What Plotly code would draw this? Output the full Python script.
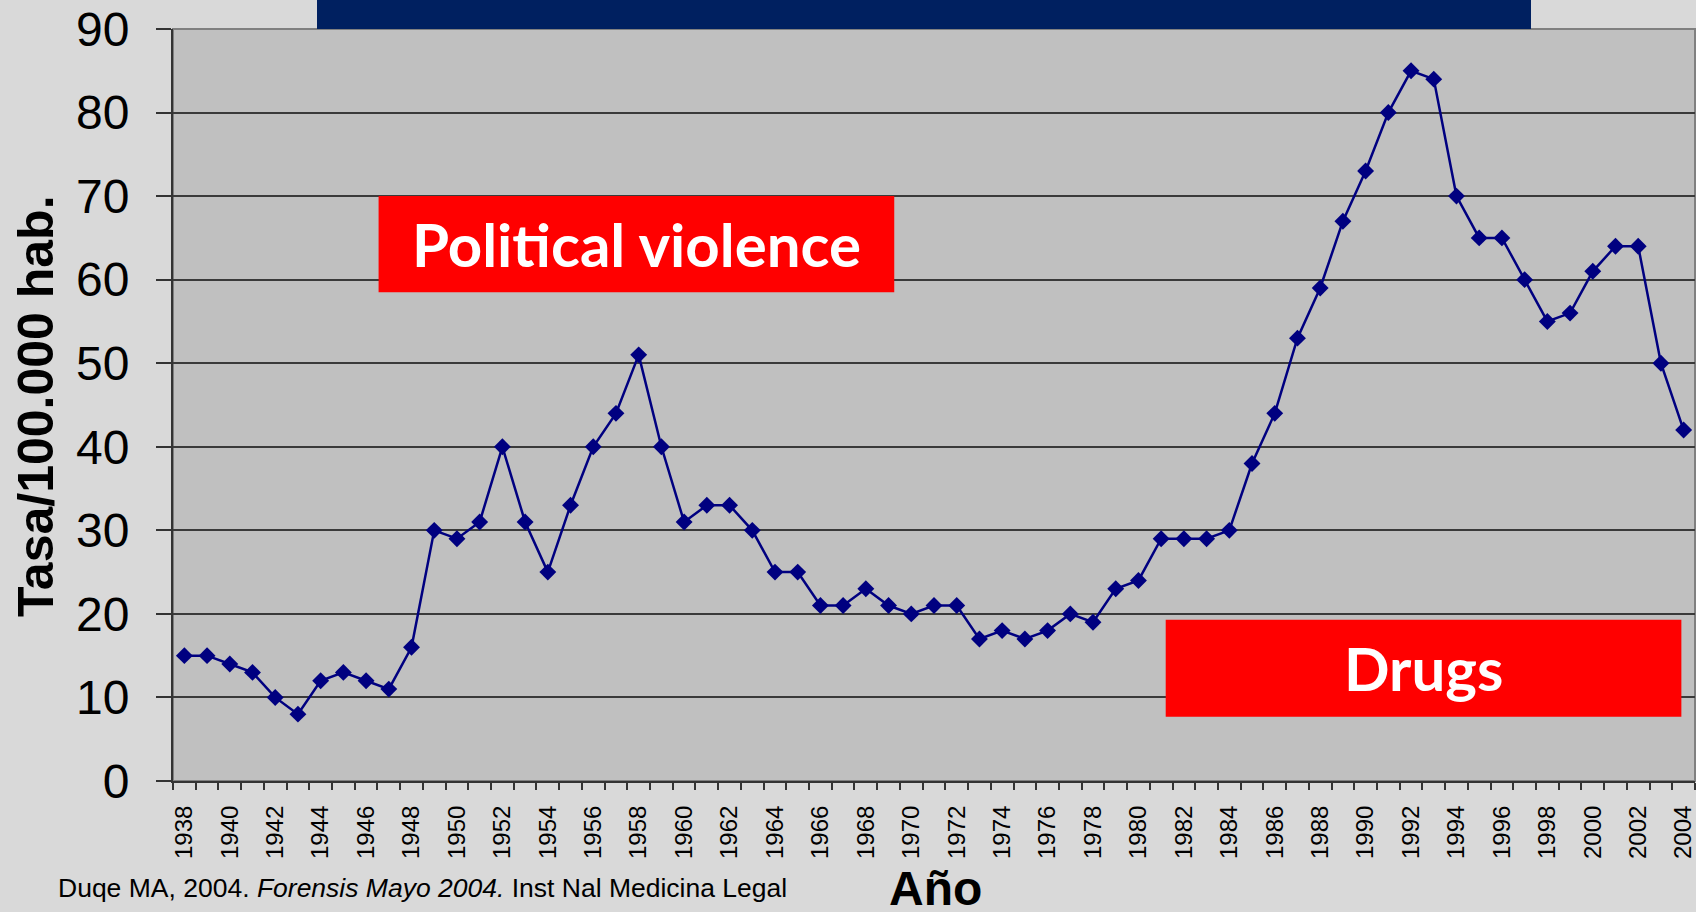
import plotly.graph_objects as go

# Homicide rate per 100,000 inhabitants, Colombia 1938-2004
years = list(range(1938, 2005))
rates = [15, 15, 14, 13, 10, 8, 12, 13, 12, 11,
         16, 30, 29, 31, 40, 31, 25, 33, 40, 44,
         51, 40, 31, 33, 33, 30, 25, 25, 21, 21,
         23, 21, 20, 21, 21, 17, 18, 17, 18, 20,
         19, 23, 24, 29, 29, 29, 30, 38, 44, 53,
         59, 67, 73, 80, 85, 84, 70, 65, 65, 60,
         55, 56, 61, 64, 64, 50, 42]

label_years = years[::2]
y_ticks = list(range(0, 100, 10))

# Period labels: (text, x0, x1, y0, y1) in data units
periods = [
    ("Political violence", 1946.55, 1969.25, 58.5, 70.0),
    ("Drugs", 1981.2, 2003.9, 7.7, 19.3),
]

source_text = "Duqe MA, 2004. <i>Forensis Mayo 2004.</i> Inst Nal Medicina Legal"

W, H = 1696, 912
L, R, T, B = 173, 1, 29, 131
PW, PH = W - L - R, H - T - B


def px_x(px):
    return (px - L) / PW


def px_y(py):
    return (H - B - py) / PH


FONT = "Liberation Sans, Arial, sans-serif"

fig = go.Figure()
fig.add_trace(go.Scatter(
    x=years, y=rates, mode="lines+markers",
    line=dict(color="#000080", width=2.5),
    marker=dict(symbol="diamond", size=13, color="#000080"),
    hoverinfo="x+y", showlegend=False,
))

shapes = [
    # plot-area frame
    dict(type="rect", xref="paper", yref="paper", x0=0, x1=1, y0=0, y1=1,
         line=dict(color="#808080", width=2), fillcolor="rgba(0,0,0,0)", layer="below"),
    # navy banner above the plot
    dict(type="rect", xref="paper", yref="paper",
         x0=px_x(317), x1=px_x(1531), y0=1, y1=px_y(-2),
         line=dict(width=0), fillcolor="#002060", layer="above"),
]
annotations = []
for text, x0, x1, y0, y1 in periods:
    shapes.append(dict(type="rect", xref="x", yref="y", x0=x0, x1=x1, y0=y0, y1=y1,
                       line=dict(width=0), fillcolor="#FF0000", layer="above"))
    annotations.append(dict(
        x=(x0 + x1) / 2, y=(y0 + y1) / 2, xref="x", yref="y",
        text=f"<b>{text}</b>", showarrow=False,
        font=dict(family="Lato, Open Sans, sans-serif", size=60, color="white"),
        xanchor="center", yanchor="middle",
    ))

annotations += [
    dict(x=px_x(36), y=px_y(406), xref="paper", yref="paper",
         text="<b>Tasa/100.000 hab.</b>", textangle=-90, showarrow=False,
         font=dict(family=FONT, size=50, color="black"),
         xanchor="center", yanchor="middle"),
    dict(x=px_x(936), y=px_y(888), xref="paper", yref="paper",
         text="<b>Año</b>", showarrow=False,
         font=dict(family=FONT, size=48, color="black"),
         xanchor="center", yanchor="middle"),
    dict(x=px_x(56), y=px_y(888), xref="paper", yref="paper",
         text=source_text, showarrow=False,
         font=dict(family=FONT, size=26.5, color="black"),
         xanchor="left", yanchor="middle"),
]

fig.update_layout(
    width=W, height=H,
    margin=dict(l=L, r=R, t=T, b=B, pad=0),
    paper_bgcolor="#D9D9D9",
    plot_bgcolor="#C0C0C0",
    shapes=shapes,
    annotations=annotations,
    font=dict(family=FONT, color="black"),
    xaxis=dict(
        range=[years[0] - 0.5, years[-1] + 0.5],
        tickmode="array", tickvals=label_years, ticktext=[str(v) for v in label_years],
        tickangle=-90, tickfont=dict(family=FONT, size=24, color="black"),
        ticks="", ticklabelstandoff=13, ticklabeloverflow="allow",
        minor=dict(tickmode="array", tickvals=[y - 0.5 for y in years] + [years[-1] + 0.5],
                   ticks="outside", ticklen=7, tickwidth=2, tickcolor="#333333",
                   showgrid=False),
        showgrid=False, zeroline=False,
        showline=True, linecolor="#333333", linewidth=2,
        fixedrange=True,
    ),
    yaxis=dict(
        range=[0, 90],
        tickmode="array", tickvals=y_ticks,
        tickfont=dict(family=FONT, size=48, color="black"),
        ticks="outside", ticklen=15, tickwidth=2, tickcolor="#333333",
        ticklabelstandoff=17,
        showgrid=True, gridcolor="#3a3a3a", gridwidth=1.5,
        zeroline=False,
        showline=True, linecolor="#333333", linewidth=2,
        fixedrange=True,
    ),
)

fig.write_html("out.html")
